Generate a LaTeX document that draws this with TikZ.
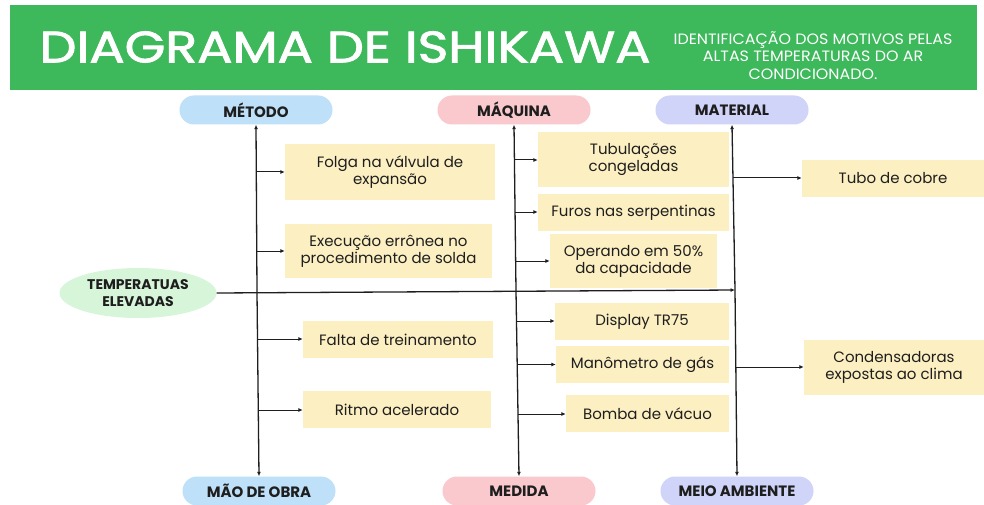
\documentclass[tikz,border=0pt]{standalone}
\usepackage{fontspec}
\setmainfont{Poppins}
\newfontfamily\titlefont[FakeBold=1.8]{Poppins}
\usetikzlibrary{shapes.geometric,arrows.meta}
\definecolor{bannergreen}{HTML}{3DB85B}
\definecolor{pillblue}{HTML}{BEE0F8}
\definecolor{pillpink}{HTML}{F9C9CD}
\definecolor{pilllav}{HTML}{CFD4F8}
\definecolor{ellgreen}{HTML}{D6F5D9}
\definecolor{boxyellow}{HTML}{FCEFC2}
\definecolor{inkc}{HTML}{1E1E1E}
\begin{document}
\begin{tikzpicture}[x=1pt,y=-1pt,
  pill/.style={rounded corners=14.5pt, minimum width=153pt, minimum height=29pt, inner sep=0pt, font=\fontsize{15}{16}\selectfont\bfseries, text=inkc},
  cause/.style={fill=boxyellow, inner sep=0pt, align=center, font=\fontsize{15}{17}\selectfont, text=inkc},
  con/.style={draw=inkc, line width=1pt, -{Latex[length=4.5pt,width=4pt]}},
  spine/.style={draw=inkc, line width=1.3pt}]
\useasboundingbox (0,0) rectangle (984,505);
\fill[white] (0,0) rectangle (984,505);
% banner
\fill[bannergreen] (10,5) rectangle (977,90);
\node[text=white, inner sep=0pt] (title) at (345,47) {\scalebox{1.19}[1]{\titlefont\fontsize{44}{44}\selectfont DIAGRAMA DE ISHIKAWA}};
\node[text=white, inner sep=0pt] (sub) at (813,58) {\scalebox{1.06}[1]{\fontsize{15}{17.5}\selectfont\begin{tabular}{@{}c@{}}IDENTIFICAÇÃO DOS MOTIVOS PELAS\\ALTAS TEMPERATURAS DO AR\\CONDICIONADO.\end{tabular}}};
% category pills
\node[pill, fill=pillblue] (metodo) at (256,110) {MÉTODO};
\node[pill, fill=pillpink] (maquina) at (514,110) {MÁQUINA};
\node[pill, fill=pilllav] (material) at (732,110) {MATERIAL};
\node[pill, fill=pillblue] (maoobra) at (259,491) {MÃO DE OBRA};
\node[pill, fill=pillpink] (medida) at (519,491) {MEDIDA};
\node[pill, fill=pilllav] (meio) at (737,491) {MEIO AMBIENTE};
% effect
\node[ellipse, fill=ellgreen, minimum width=157pt, minimum height=50pt, inner sep=0pt, align=center, font=\fontsize{14}{16.5}\selectfont\bfseries, text=inkc] (efeito) at (138,293) {TEMPERATUAS\\ELEVADAS};
% spine coordinates
\coordinate (sm) at (257,292.5);
\coordinate (sq) at (516,291);
\coordinate (sa) at (735,290);
\draw[spine, -{Latex[length=4.5pt,width=4pt]}] (efeito.east) -- (sa);
\draw[spine, -{Latex[length=4.5pt,width=4pt]}] (sm) -- (metodo.south);
\draw[spine, -{Latex[length=4.5pt,width=4pt]}] (sm) -- (maoobra.north);
\draw[spine, -{Latex[length=4.5pt,width=4pt]}] (sq) -- (maquina.south);
\draw[spine, -{Latex[length=4.5pt,width=4pt]}] (sq) -- (medida.north);
\draw[spine, -{Latex[length=4.5pt,width=4pt]}] (sa) -- (material.south);
\draw[spine, -{Latex[length=4.5pt,width=4pt]}] (sa) -- (meio.north);
% method causes
\node[cause, minimum width=210pt, minimum height=55pt] (c1) at (390,172) {Folga na válvula de\\expansão};
\node[cause, minimum width=207pt, minimum height=54pt] (c2) at (388.5,251) {Execução errônea no\\procedimento de solda};
\node[cause, minimum width=190pt, minimum height=37pt] (c3) at (398,339.5) {Falta de treinamento};
\node[cause, minimum width=188pt, minimum height=37pt] (c4) at (397,409.5) {Ritmo acelerado};
% machine/measure causes
\node[cause, minimum width=191pt, minimum height=55pt] (c5) at (633.5,159.5) {Tubulações\\congeladas};
\node[cause, minimum width=191pt, minimum height=37pt] (c6) at (633.5,212.5) {Furos nas serpentinas};
\node[cause, minimum width=167pt, minimum height=54pt] (c7) at (633.5,261) {Operando em 50\%\\da capacidade};
\node[cause, minimum width=174pt, minimum height=37pt] (c8) at (642,321.5) {Display TR75};
\node[cause, minimum width=173pt, minimum height=37pt] (c9) at (642.5,364.5) {Manômetro de gás};
\node[cause, minimum width=163pt, minimum height=37pt] (c10) at (647.5,413.5) {Bomba de vácuo};
% material/environment causes
\node[cause, minimum width=182pt, minimum height=37pt] (c11) at (893,178.5) {Tubo de cobre};
\node[cause, minimum width=180pt, minimum height=55pt] (c12) at (894,367.5) {Condensadoras\\expostas ao clima};
% branch arrows
\coordinate (m1) at (256,172); \draw[con] (m1) -- (c1.west |- m1);
\coordinate (m2) at (256,251); \draw[con] (m2) -- (c2.west |- m2);
\coordinate (m3) at (257.5,339); \draw[con] (m3) -- (c3.west |- m3);
\coordinate (m4) at (258,410); \draw[con] (m4) -- (c4.west |- m4);
\coordinate (q1) at (514.5,160); \draw[con] (q1) -- (c5.west |- q1);
\coordinate (q2) at (515,212); \draw[con] (q2) -- (c6.west |- q2);
\coordinate (q3) at (515.5,261); \draw[con] (q3) -- (c7.west |- q3);
\coordinate (q4) at (516.5,321); \draw[con] (q4) -- (c8.west |- q4);
\coordinate (q5) at (517,364.5); \draw[con] (q5) -- (c9.west |- q5);
\coordinate (q6) at (517.5,414); \draw[con] (q6) -- (c10.west |- q6);
\coordinate (a1) at (733,178); \draw[con] (a1) -- (c11.west |- a1);
\coordinate (a2) at (735.5,367); \draw[con] (a2) -- (c12.west |- a2);
\end{tikzpicture}
\end{document}
